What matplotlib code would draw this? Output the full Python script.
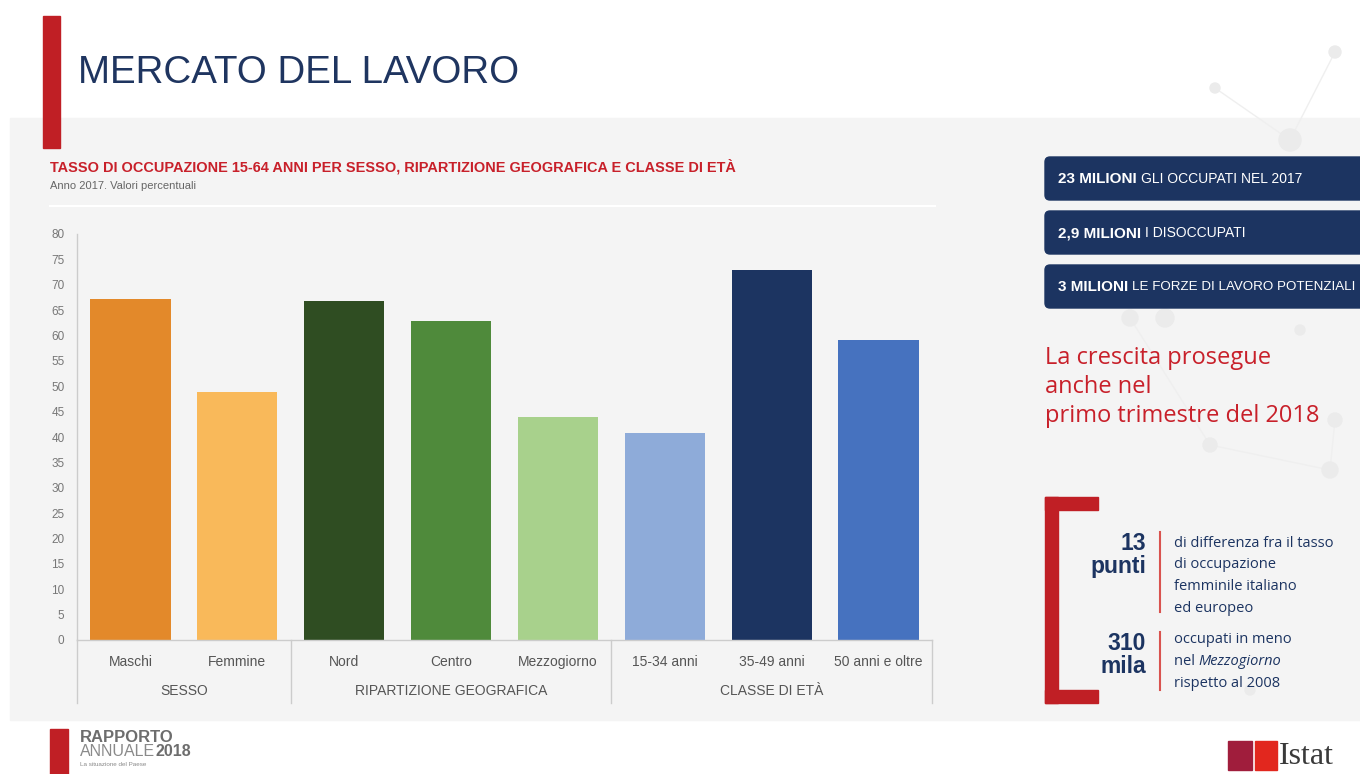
import matplotlib
matplotlib.use("Agg")
import matplotlib.pyplot as plt
import matplotlib.font_manager as fm
from matplotlib.patches import Rectangle, FancyBboxPatch, Circle
from matplotlib.transforms import blended_transform_factory

# data
categories = ["Maschi", "Femmine", "Nord", "Centro", "Mezzogiorno",
              "15-34 anni", "35-49 anni", "50 anni e oltre"]
values = [67.1, 48.9, 66.7, 62.8, 44.0, 40.7, 72.9, 59.1]
groups = ["SESSO", "RIPARTIZIONE GEOGRAFICA", "CLASSE DI ETÀ"]
group_sizes = [2, 3, 3]
bar_colors = ["#e3892a", "#f9b95a", "#2f4d22", "#4f8a3b", "#a8d18c",
              "#8eabd9", "#1c3461", "#4672bf"]
yticks = list(range(0, 81, 5))

boxes_bold = ["23 MILIONI", "2,9 MILIONI", "3 MILIONI"]
boxes_text = ["GLI OCCUPATI NEL 2017", "I DISOCCUPATI", "LE FORZE DI LAVORO POTENZIALI"]

# fonts
available = {f.name for f in fm.fontManager.ttflist}
def pick(*names):
    for n in names:
        if n in available:
            return n
    return "DejaVu Sans"

NARROW = pick("Liberation Sans Narrow", "Liberation Sans")
SANS = pick("Liberation Sans", "DejaVu Sans")
HUM = pick("Open Sans", "Noto Sans", "DejaVu Sans")
SERIF = pick("Liberation Serif", "DejaVu Serif")

RED = "#c8202a"
NAVY = "#1c3461"
GRAY = "#666666"

fig = plt.figure(figsize=(13.6, 7.74), dpi=100)
fig.patch.set_facecolor("white")

bg = fig.add_axes([0, 0, 1, 1])
bg.set_xlim(0, 1360)
bg.set_ylim(774, 0)
bg.axis("off")

renderer = fig.canvas.get_renderer()

def width_of(t):
    return t.get_window_extent(renderer=renderer).width

def fit(t, target):
    w = width_of(t)
    if w > target:
        t.set_fontsize(t.get_fontsize() * target / w)
    return t

# panel + faint network decoration
bg.add_patch(Rectangle((10, 118), 1350, 602, color="#f4f4f4", zorder=0))
for (cx, cy, r) in [(1290, 140, 11), (1215, 88, 5), (1335, 52, 6), (1130, 318, 8),
                    (1165, 318, 9), (1300, 330, 5), (1210, 445, 7), (1330, 470, 8),
                    (1335, 420, 7), (1250, 690, 5)]:
    bg.add_patch(Circle((cx, cy), r, color="#ebebeb", zorder=0.5))
bg.plot([1215, 1290, 1335], [88, 140, 52], color="#efefef", lw=1, zorder=0.4)
bg.plot([1130, 1210, 1330, 1335], [318, 445, 470, 420], color="#efefef", lw=1, zorder=0.4)

# header
bg.add_patch(Rectangle((43, 16), 17, 132, color="#c01f25", zorder=3))
t = bg.text(78, 73, "MERCATO DEL LAVORO", fontsize=36, color="#1f3560",
            family=NARROW, va="center", ha="left")
fit(t, 442)

# chart titles
t = bg.text(50, 167, "TASSO DI OCCUPAZIONE 15-64 ANNI PER SESSO, RIPARTIZIONE GEOGRAFICA E CLASSE DI ETÀ",
            fontsize=11, color=RED, family=NARROW, weight="bold", va="center")
fit(t, 681)
bg.text(50, 186, "Anno 2017. Valori percentuali", fontsize=8, color=GRAY,
        family=NARROW, va="center")
bg.plot([50, 935], [206, 206], color="white", lw=1.5)

# chart
ax = fig.add_axes([77 / 1360, 134 / 774, 855 / 1360, 406 / 774])
ax.set_facecolor("none")
x = list(range(len(categories)))
ax.bar(x, values, width=0.75, color=bar_colors, zorder=2)
ax.set_xlim(-0.5, len(categories) - 0.5)
ax.set_ylim(0, 80)
ax.set_yticks(yticks)
ax.set_xticks(x)
ax.set_xticklabels(categories, family=SANS, fontsize=10, color="#555555")
ax.set_yticklabels([str(v) for v in yticks], family=SANS, fontsize=8.5, color="#777777")
ax.tick_params(axis="y", length=0, pad=9)
ax.tick_params(axis="x", length=0, pad=11)
for s in ["top", "right"]:
    ax.spines[s].set_visible(False)
for s in ["left", "bottom"]:
    ax.spines[s].set_color("#cccccc")
    ax.spines[s].set_linewidth(1)

tr = blended_transform_factory(ax.transData, ax.transAxes)
start = 0
bounds = [-0.5]
for g, n in zip(groups, group_sizes):
    mid = start + (n - 1) / 2
    ax.text(mid, -0.1256, g, transform=tr, ha="center", va="center",
            family=SANS, fontsize=10, color="#555555")
    start += n
    bounds.append(start - 0.5)
for b in bounds:
    ax.plot([b, b], [0, -0.155], transform=tr, color="#cccccc", lw=1, clip_on=False)

# right boxes
for i, (bt, nt) in enumerate(zip(boxes_bold, boxes_text)):
    y0 = 157 + i * 54
    bg.add_patch(FancyBboxPatch((1045, y0), 340, 43,
                                boxstyle="round,pad=0,rounding_size=5",
                                color=NAVY, zorder=2))
    t1 = bg.text(1058, y0 + 22, bt, fontsize=11, color="white", family=SANS,
                 weight="bold", va="center", zorder=3)
    x2 = 1058 + width_of(t1) + 4
    t2 = bg.text(x2, y0 + 22, nt, fontsize=10, color="white", family=NARROW,
                 va="center", zorder=3)
    fit(t2, 1356 - x2)

bg.text(1045, 387, "La crescita prosegue\nanche nel\nprimo trimestre del 2018",
        fontsize=17, color=RED, family=HUM, va="center", linespacing=1.25)

# bracket
bg.add_patch(Rectangle((1045, 497), 13, 206, color="#c01f25", zorder=2))
bg.add_patch(Rectangle((1045, 497), 53, 13, color="#c01f25", zorder=2))
bg.add_patch(Rectangle((1045, 690), 53, 13, color="#c01f25", zorder=2))

bg.text(1146, 555, "13\npunti", fontsize=16.5, color=NAVY, family=SANS, weight="bold",
        ha="right", va="center", linespacing=0.95, multialignment="right")
bg.plot([1160, 1160], [532, 612], color="#d9534f", lw=1.5)
for k, line in enumerate(["di differenza fra il tasso", "di occupazione",
                          "femminile italiano", "ed europeo"]):
    bg.text(1174, 547 + k * 21.5, line, fontsize=10.5, color=NAVY, family=HUM,
            va="baseline")

bg.text(1146, 655, "310\nmila", fontsize=16.5, color=NAVY, family=SANS, weight="bold",
        ha="right", va="center", linespacing=0.95, multialignment="right")
bg.plot([1160, 1160], [632, 690], color="#d9534f", lw=1.5)
bg.text(1174, 643, "occupati in meno", fontsize=10.5, color=NAVY, family=HUM, va="baseline")
t1 = bg.text(1174, 665, "nel ", fontsize=10.5, color=NAVY, family=HUM, va="baseline")
bg.text(1174 + width_of(t1), 665, "Mezzogiorno", fontsize=10.5, color=NAVY, family=HUM,
        style="italic", va="baseline")
bg.text(1174, 687, "rispetto al 2008", fontsize=10.5, color=NAVY, family=HUM, va="baseline")

# footer left logo
bg.add_patch(Rectangle((50, 729), 18, 50, color="#c01f25", zorder=2))
bg.text(80, 737, "RAPPORTO", fontsize=12, color="#6d6d6d", family=NARROW,
        weight="bold", va="center")
t1 = bg.text(80, 752, "ANNUALE", fontsize=11.5, color="#8a8a8a", family=NARROW, va="center")
bg.text(80 + width_of(t1), 752, "2018", fontsize=11.5, color="#6d6d6d", family=NARROW,
        weight="bold", va="center")
bg.text(80, 765, "La situazione del Paese", fontsize=4.5, color="#8a8a8a",
        family=SANS, va="center")

# footer right logo
bg.add_patch(Rectangle((1228, 741), 24, 29, color="#a01d3c", zorder=2))
bg.add_patch(Rectangle((1255, 741), 22, 29, color="#e2271e", zorder=2))
bg.text(1279, 756, "Istat", fontsize=23, color="#3a3a3a", family=SERIF, va="center")

fig.savefig("out.png", dpi=100, facecolor=fig.get_facecolor())
